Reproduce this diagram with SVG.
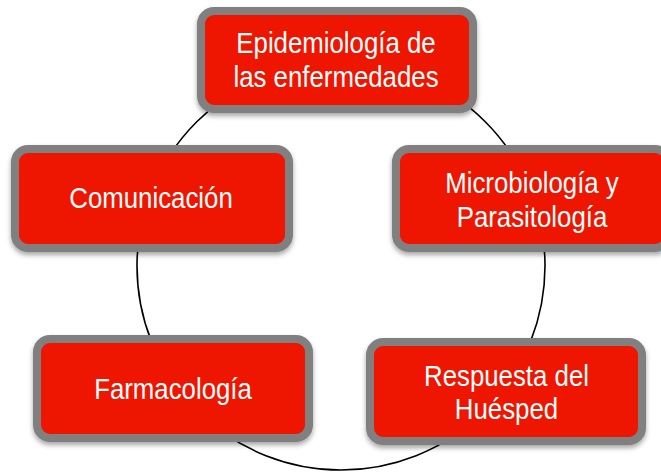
<svg xmlns="http://www.w3.org/2000/svg" width="661" height="473" viewBox="0 0 661 473">
  <style>
    .box { fill: #EE1300; stroke: #808080; stroke-width: 8; filter: url(#sh); }
    .lbl { font-family: "Liberation Sans", Arial, sans-serif; font-size: 29px; fill: #FFFFFF; text-anchor: middle; }
    .ring { fill: none; stroke: #000000; stroke-width: 1.6; }
  </style>
  <defs>
    <filter id="sh" x="-10%" y="-15%" width="120%" height="140%">
      <feDropShadow dx="0" dy="3" stdDeviation="2.5" flood-color="#000000" flood-opacity="0.35"/>
    </filter>
  </defs>
  <rect width="661" height="473" fill="#FFFFFF"/>
  <g id="connectors">
    <circle class="ring" cx="341" cy="266" r="204"/>
  </g>
  <g id="node-epidemiologia">
    <rect class="box" x="201" y="11" width="272" height="98" rx="13"/>
    <g transform="translate(336,0) scale(0.89,1)">
      <text class="lbl" x="0" y="53.3">Epidemiología de</text>
      <text class="lbl" x="0" y="86.7">las enfermedades</text>
    </g>
  </g>
  <g id="node-comunicacion">
    <rect class="box" x="15" y="149" width="274" height="99" rx="13"/>
    <g transform="translate(151,0) scale(0.89,1)">
      <text class="lbl" x="0" y="208.3">Comunicación</text>
    </g>
  </g>
  <g id="node-microbiologia">
    <rect class="box" x="396" y="149" width="272" height="99" rx="13"/>
    <g transform="translate(532,0) scale(0.89,1)">
      <text class="lbl" x="0" y="193.3">Microbiología y</text>
      <text class="lbl" x="0" y="226.7">Parasitología</text>
    </g>
  </g>
  <g id="node-farmacologia">
    <rect class="box" x="37" y="339" width="272" height="99" rx="13"/>
    <g transform="translate(173,0) scale(0.89,1)">
      <text class="lbl" x="0" y="399">Farmacología</text>
    </g>
  </g>
  <g id="node-respuesta">
    <rect class="box" x="370" y="342" width="272" height="99" rx="13"/>
    <g transform="translate(506.5,0) scale(0.89,1)">
      <text class="lbl" x="0" y="385.7">Respuesta del</text>
      <text class="lbl" x="0" y="418.8">Huésped</text>
    </g>
  </g>
</svg>
